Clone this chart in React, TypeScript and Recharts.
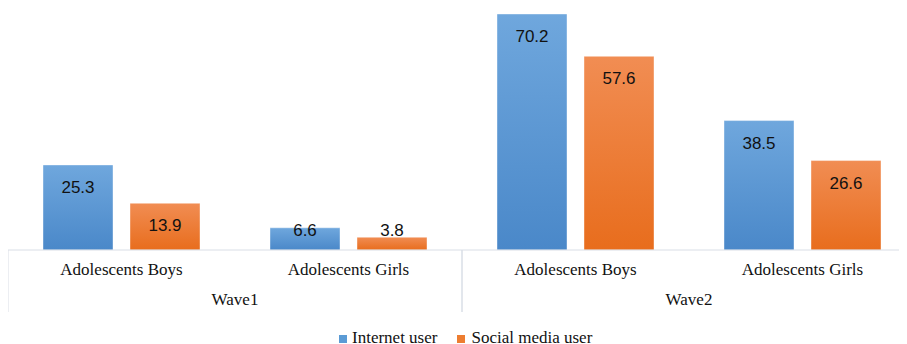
import React from "react";
import { BarChart, Bar, XAxis, YAxis, LabelList, Legend } from "recharts";

const categories = ["Adolescents Boys", "Adolescents Girls", "Adolescents Boys", "Adolescents Girls"];
const waves = ["Wave1", "Wave1", "Wave2", "Wave2"];
const internetUser = [25.3, 6.6, 70.2, 38.5];
const socialMediaUser = [13.9, 3.8, 57.6, 26.6];
const seriesNames = ["Internet user", "Social media user"];

const data = categories.map((c, i) => ({
  key: `${waves[i]}-${c}`,
  category: c,
  wave: waves[i],
  internet: internetUser[i],
  social: socialMediaUser[i],
}));

const SERIF = "'Liberation Serif', 'Times New Roman', serif";
const SANS = "'Liberation Sans', Arial, sans-serif";
const AXIS_COLOR = "#d9dee6";

const ValueLabel = (props: any) => {
  const { x, y, width, height, value } = props;
  const cy = Math.min(y + 22, y + height - 20);
  return (
    <text x={x + width / 2} y={cy} dy={6} textAnchor="middle" fontFamily={SANS} fontSize={17} fill="#111">
      {value}
    </text>
  );
};

const CategoryTick = (props: any) => {
  const { x, y, payload } = props;
  const idx = payload.index;
  const half = payload.offset || 113.5;
  const first = idx === 0 || waves[idx] !== waves[idx - 1];
  const last = idx === categories.length - 1 || waves[idx] !== waves[idx + 1];
  return (
    <g>
      <text x={x} y={y + 25} textAnchor="middle" fontFamily={SERIF} fontSize={17} fill="#111">
        {categories[idx]}
      </text>
      {first && <line x1={x - half} x2={x - half} y1={y} y2={y + 62} stroke={AXIS_COLOR} strokeWidth={1} />}
      {last && <line x1={x + half} x2={x + half} y1={y} y2={y + 62} stroke={AXIS_COLOR} strokeWidth={1} />}
      {first && (
        <text x={x + half} y={y + 55} textAnchor="middle" fontFamily={SERIF} fontSize={17} fill="#111">
          {waves[idx]}
        </text>
      )}
    </g>
  );
};

const LegendContent = () => (
  <div style={{ display: "flex", alignItems: "baseline", fontFamily: SERIF, fontSize: 17, color: "#111", whiteSpace: "nowrap" }}>
    <span style={{ display: "inline-block", width: 8, height: 8, background: "#5b9bd5", marginRight: 5 }} />
    <span style={{ marginRight: 20 }}>{seriesNames[0]}</span>
    <span style={{ display: "inline-block", width: 8, height: 8, background: "#ed7d31", marginRight: 6 }} />
    <span>{seriesNames[1]}</span>
  </div>
);

export default function App() {
  return (
    <div style={{ width: 899, height: 336, overflow: "hidden", position: "relative" }}>
      <BarChart
        width={908}
        height={336}
        data={data}
        margin={{ top: 6, right: 0, left: 0, bottom: 64 }}
        barSize={70}
        barGap={17}
      >
        <defs>
          <linearGradient id="gBlue" x1="0" y1="0" x2="0" y2="1">
            <stop offset="0%" stopColor="#6fa7dd" />
            <stop offset="100%" stopColor="#4a88c9" />
          </linearGradient>
          <linearGradient id="gOrange" x1="0" y1="0" x2="0" y2="1">
            <stop offset="0%" stopColor="#f18d53" />
            <stop offset="100%" stopColor="#e86d1d" />
          </linearGradient>
        </defs>
        <XAxis
          dataKey="key"
          tick={<CategoryTick />}
          tickLine={false}
          tickSize={0}
          tickMargin={0}
          axisLine={{ stroke: AXIS_COLOR, strokeWidth: 1 }}
          interval={0}
        />
        <YAxis hide domain={[0, 70.2]} />
        <Legend
          verticalAlign="middle"
          align="center"
          layout="horizontal"
          content={<LegendContent />}
          wrapperStyle={{ top: 320, left: 331, width: 400, height: 20 }}
        />
        <Bar dataKey="internet" name={seriesNames[0]} fill="url(#gBlue)" stroke="#ffffff" strokeOpacity={0.4} isAnimationActive={false}>
          <LabelList dataKey="internet" content={<ValueLabel />} />
        </Bar>
        <Bar dataKey="social" name={seriesNames[1]} fill="url(#gOrange)" stroke="#ffffff" strokeOpacity={0.4} isAnimationActive={false}>
          <LabelList dataKey="social" content={<ValueLabel />} />
        </Bar>
      </BarChart>
    </div>
  );
}
